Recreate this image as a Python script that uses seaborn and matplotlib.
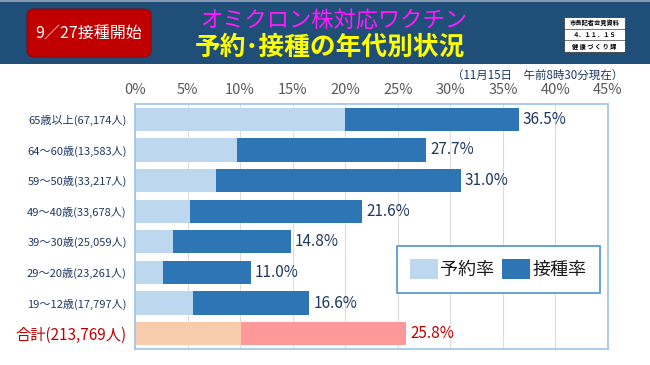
import matplotlib
matplotlib.use('Agg')
import matplotlib.pyplot as plt
import pandas as pd
import seaborn as sns
from matplotlib.patches import Rectangle, FancyBboxPatch, Patch

# data
groups = ['65歳以上(67,174人)', '64～60歳(13,583人)', '59～50歳(33,217人)', '49～40歳(33,678人)',
          '39～30歳(25,059人)', '29～20歳(23,261人)', '19～12歳(17,797人)', '合計(213,769人)']
reserve_rate = [20.0, 9.7, 7.7, 5.2, 3.6, 2.7, 5.5, 10.1]
vaccine_rate = [36.5, 27.7, 31.0, 21.6, 14.8, 11.0, 16.6, 25.8]
xticks = [0, 5, 10, 15, 20, 25, 30, 35, 40, 45]

df = pd.DataFrame({'group': groups, 'reserve': reserve_rate, 'vaccine': vaccine_rate})

sns.set_style('white')
plt.rcParams['font.family'] = ['Noto Sans CJK JP', 'DejaVu Sans']

navy = '#203864'
red = '#c00000'
light_cols = ['#bdd7ee'] * 7 + ['#f8cbad']
dark_cols = ['#2e75b6'] * 7 + ['#ff9999']

fig = plt.figure(figsize=(6.5, 3.65), dpi=100)

# header band
fig.patches.append(Rectangle((0, 1 - 64 / 365), 1, 64 / 365, transform=fig.transFigure,
                             facecolor='#1f4e79', edgecolor='none', zorder=0))
fig.patches.append(Rectangle((0, 1 - 2 / 365), 1, 2 / 365, transform=fig.transFigure,
                             facecolor='#8497b0', edgecolor='none', zorder=1))
# red badge
fig.patches.append(FancyBboxPatch((0.27, 3.08), 1.24, 0.48, transform=fig.dpi_scale_trans,
                                  boxstyle='round,pad=0,rounding_size=0.07',
                                  facecolor='#c00000', edgecolor='#8b0000', lw=0.6, zorder=2))
fig.text(89 / 650, 1 - 34 / 365, '9／27接種開始', color='white', fontsize=11.5,
         ha='center', va='center', zorder=3)
fig.text(334 / 650, 1 - 21 / 365, 'オミクロン株対応ワクチン', color='#ff1aff', fontsize=16,
         ha='center', va='center')
fig.text(330 / 650, 1 - 47 / 365, '予約･接種の年代別状況', color='#ffff00', fontsize=18.5,
         fontweight='bold', ha='center', va='center')

# small stamp box top right
fig.patches.append(Rectangle((5.64, 3.13), 0.61, 0.35, transform=fig.dpi_scale_trans,
                             facecolor='white', edgecolor='#404040', lw=0.6, zorder=2))
for yy in [3.13 + 0.35 / 3, 3.13 + 0.7 / 3]:
    fig.lines.append(plt.Line2D([5.64, 6.25], [yy, yy], transform=fig.dpi_scale_trans,
                                color='#404040', lw=0.5, zorder=3))
for k, s in enumerate(['市長記者会見資料', '４．１１．１５', '健 康 づ く り 課']):
    fig.text(5.945, 3.13 + 0.35 * (5 - 2 * k) / 6, s, transform=fig.dpi_scale_trans,
             fontsize=4.5, fontweight='bold', ha='center', va='center', color='black', zorder=4)

fig.text(623 / 650, 1 - 75 / 365, '（11月15日　午前8時30分現在）', color=navy, fontsize=8.3,
         ha='right', va='center')

ax = fig.add_axes([135 / 650, 1 - 349 / 365, 473 / 650, 245 / 365])

sns.barplot(data=df, x='vaccine', y='group', hue='group', palette=dark_cols, legend=False,
            orient='h', width=0.76, saturation=1, linewidth=0, ax=ax)
n = len(groups)
dark_containers = list(ax.containers[:n])
sns.barplot(data=df, x='reserve', y='group', hue='group', palette=light_cols, legend=False,
            orient='h', width=0.76, saturation=1, linewidth=0, ax=ax)

for i, c in enumerate(dark_containers):
    ax.bar_label(c, fmt='%.1f%%', padding=3, fontsize=11,
                 color=red if i == n - 1 else navy)

ax.set_xlim(0, 45)
ax.set_ylim(n - 0.5, -0.5)
ax.set_xticks(xticks)
ax.set_xticklabels([f'{t}%' for t in xticks])
ax.xaxis.tick_top()
ax.tick_params(axis='x', length=0, pad=5, labelsize=10.5, labelcolor='#595959')
ax.tick_params(axis='y', length=0, pad=6, labelsize=8, labelcolor=navy)
ylab = ax.get_yticklabels()
ylab[-1].set_color(red)
ylab[-1].set_fontsize(11)
ax.set_xlabel('')
ax.set_ylabel('')
ax.grid(axis='x', color='#dcdcdc', lw=0.8)
ax.set_axisbelow(True)
for sp in ax.spines.values():
    sp.set_visible(True)
    sp.set_color('#9dc3e6')
    sp.set_linewidth(1.2)

handles = [Patch(facecolor='#bdd7ee', edgecolor='none', label='予約率'),
           Patch(facecolor='#2e75b6', edgecolor='none', label='接種率')]
leg = ax.legend(handles=handles, loc='center', bbox_to_anchor=(0.768, 0.326), ncol=2,
                fontsize=13, handlelength=1.55, handleheight=1.3, handletextpad=0.1,
                columnspacing=0.45, borderpad=0.75, fancybox=False, framealpha=1)
leg.get_frame().set_edgecolor('#5b9bd5')
leg.get_frame().set_linewidth(1.3)
for t in leg.get_texts():
    t.set_color('#1a1a1a')

fig.savefig('out.png', dpi=100)
